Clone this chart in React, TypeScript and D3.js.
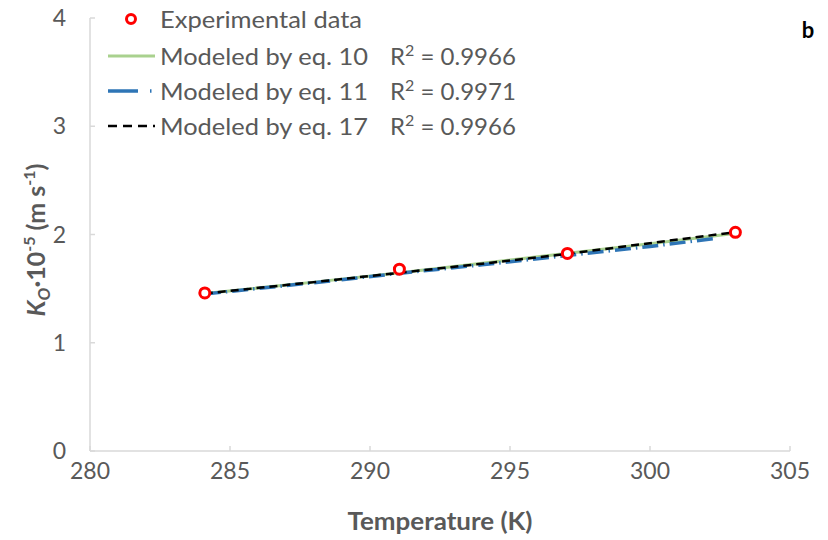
import React from "react";
import * as d3 from "d3";

const expT = [284.1, 291.05, 297.05, 303.05];
const expK = [1.46, 1.68, 1.825, 2.02];

const eq10T = [284.1, 288, 291, 294, 297, 300, 303];
const eq10K = [1.455, 1.56, 1.645, 1.735, 1.825, 1.915, 2.01];

const eq11T = [284.1, 288, 291, 294, 297, 300, 302.4];
const eq11K = [1.45, 1.555, 1.64, 1.72, 1.805, 1.89, 1.965];

const eq17T = [284.1, 288, 291, 294, 297, 300, 303];
const eq17K = [1.455, 1.56, 1.645, 1.73, 1.82, 1.92, 2.02];

const xTicks = [280, 285, 290, 295, 300, 305];
const yTicks = [0, 1, 2, 3, 4];

const legendLabels = ["Modeled by eq. 10", "Modeled by eq. 11", "Modeled by eq. 17"];
const r2Values = ["0.9966", "0.9971", "0.9966"];

const W = 828;
const H = 540;
const FONT = "Lato, 'Open Sans', sans-serif";

export default function App() {
  const x = d3.scaleLinear().domain([280, 305]).range([90, 790]);
  const y = d3.scaleLinear().domain([0, 4]).range([451, 18]);
  const line = d3
    .line<[number, number]>()
    .x((d) => x(d[0]))
    .y((d) => y(d[1]));
  const zip = (a: number[], b: number[]) => a.map((v, i) => [v, b[i]] as [number, number]);

  const styles = [
    { stroke: "#a9d18e", width: 3, dash: "none" },
    { stroke: "#2e75b6", width: 3.5, dash: "16,5,1.5,5" },
    { stroke: "#000000", width: 2.5, dash: "8,5" },
  ];
  const series = [zip(eq10T, eq10K), zip(eq11T, eq11K), zip(eq17T, eq17K)];

  return (
    <svg width={W} height={H} style={{ position: "absolute", left: 0, top: 0, background: "#fff" }}>
      {/* axes */}
      <line x1={x(280)} x2={x(305)} y1={y(0)} y2={y(0)} stroke="#d9d9d9" strokeWidth={1.5} />
      <line x1={x(280)} x2={x(280)} y1={y(0)} y2={y(4)} stroke="#d9d9d9" strokeWidth={1.5} />
      {xTicks.map((t) => (
        <g key={"xt" + t}>
          <line x1={x(t)} x2={x(t)} y1={y(0)} y2={y(0) - 5} stroke="#d9d9d9" strokeWidth={1.5} />
          <text x={x(t)} y={479} textAnchor="middle" fontFamily={FONT} fontSize={23} fill="#595959">
            {t}
          </text>
        </g>
      ))}
      {yTicks.map((t) => (
        <g key={"yt" + t}>
          <line x1={x(280)} x2={x(280) + 5} y1={y(t)} y2={y(t)} stroke="#d9d9d9" strokeWidth={1.5} />
          <text x={66} y={y(t) + 8} textAnchor="end" fontFamily={FONT} fontSize={23} fill="#595959">
            {t}
          </text>
        </g>
      ))}
      {/* axis titles */}
      <text
        x={440}
        y={530}
        textAnchor="middle"
        fontFamily={FONT}
        fontSize={24}
        fontWeight="bold"
        fill="#595959"
        textLength={185}
        lengthAdjust="spacingAndGlyphs"
      >
        Temperature  (K)
      </text>
      <text
        transform={`translate(45,240) rotate(-90)`}
        textAnchor="middle"
        fontFamily={FONT}
        fontSize={25}
        fontWeight="bold"
        fill="#595959"
      >
        <tspan fontStyle="italic">K</tspan>
        <tspan fontStyle="italic" fontSize={17} dy={5}>O</tspan>
        <tspan dy={-5}>·10</tspan>
        <tspan fontSize={16} dy={-10}>-5</tspan>
        <tspan dy={10}> (m s</tspan>
        <tspan fontSize={16} dy={-10}>-1</tspan>
        <tspan dy={10}>)</tspan>
      </text>

      {/* model lines */}
      {series.map((s, i) => (
        <path
          key={"s" + i}
          d={line(s) || ""}
          fill="none"
          stroke={styles[i].stroke}
          strokeWidth={styles[i].width}
          strokeDasharray={styles[i].dash}
        />
      ))}

      {/* experimental points */}
      {expT.map((t, i) => (
        <circle key={"p" + i} cx={x(t)} cy={y(expK[i])} r={5} fill="#fff" stroke="#ff0000" strokeWidth={3} />
      ))}

      {/* legend */}
      <circle cx={131} cy={19} r={4.5} fill="#fff" stroke="#ff0000" strokeWidth={3} />
      <text x={160} y={28} fontFamily={FONT} fontSize={24} fill="#595959" textLength={202} lengthAdjust="spacingAndGlyphs">
        Experimental data
      </text>
      {legendLabels.map((lab, i) => {
        const ly = 56 + i * 35;
        return (
          <g key={"lg" + i}>
            <line
              x1={108}
              x2={155}
              y1={ly}
              y2={ly}
              stroke={styles[i].stroke}
              strokeWidth={styles[i].width}
              strokeDasharray={i === 1 ? "30,12,1.5,5" : styles[i].dash === "none" ? "none" : "9,6"}
            />
            <text x={160} y={ly + 9} fontFamily={FONT} fontSize={24} fill="#595959" textLength={208} lengthAdjust="spacingAndGlyphs">
              {lab}
            </text>
            <text x={390} y={ly + 9} fontFamily={FONT} fontSize={24} fill="#595959">
              R<tspan fontSize={16} dy={-9}>2</tspan>
              <tspan dy={9}> = {r2Values[i]}</tspan>
            </text>
          </g>
        );
      })}

      <text x={808} y={38} textAnchor="middle" fontFamily={FONT} fontSize={22} fontWeight="bold" fill="#000">
        b
      </text>
    </svg>
  );
}
